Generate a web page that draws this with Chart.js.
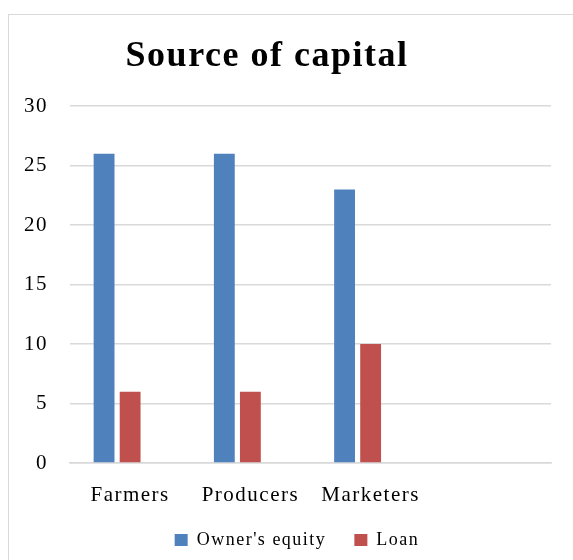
<!DOCTYPE html>
<html>
<head>
<meta charset="utf-8">
<script src="https://cdn.jsdelivr.net/npm/chart.js@4/dist/chart.umd.min.js"></script>
<style>
  html, body { margin: 0; padding: 0; background: #fff; }
  #wrap { position: relative; width: 573px; height: 560px; overflow: hidden; }
  #frame { position: absolute; left: 8px; top: 14px; width: 700px; height: 700px; border: 1px solid #d9d9d9; }
  canvas { position: absolute; left: 0; top: 0; }
</style>
</head>
<body>
<div id="wrap">
  <div id="frame"></div>
  <canvas id="myChart" width="573" height="560"></canvas>
</div>
<script>
// chart data
const categories = ['Farmers', 'Producers', 'Marketers', ''];
const ownersEquity = [26, 26, 23];
const loan = [6, 6, 10];
const yTicks = [0, 5, 10, 15, 20, 25, 30];

const serif = "'Liberation Serif', 'Times New Roman', serif";

// spread the letters a bit, like the original picture,
// and nudge title / legend to where they sit in the original
const spacingPlugin = {
  id: 'spacing',
  beforeLayout(chart) {
    chart.ctx.letterSpacing = '1.5px';
  },
  beforeDraw(chart) {
    chart.ctx.letterSpacing = '1.5px';
  },
  afterLayout(chart) {
    if (chart.titleBlock) {
      chart.titleBlock.left = 0;
      chart.titleBlock.right = 534;
    }
    if (chart.legend) {
      chart.legend.left = 43;
    }
    // let the category labels hang below the (short) x axis box
    chart.scales.x.bottom = chart.height;
  }
};

const ctx = document.getElementById('myChart').getContext('2d');
const chart = new Chart(ctx, {
  type: 'bar',
  data: {
    labels: categories,
    datasets: [
      {
        label: "Owner's equity",
        data: ownersEquity,
        backgroundColor: '#4F81BD',
        categoryPercentage: 0.65,
        barPercentage: 0.8
      },
      {
        label: 'Loan',
        data: loan,
        backgroundColor: '#C0504D',
        categoryPercentage: 0.65,
        barPercentage: 0.8
      },
      {
        // empty third slot, keeps the bars left of the category centre
        label: '',
        data: [],
        backgroundColor: 'rgba(0,0,0,0)',
        categoryPercentage: 0.65,
        barPercentage: 0.8
      }
    ]
  },
  options: {
    responsive: false,
    animation: false,
    layout: {
      padding: { left: 8, right: 22, top: 0, bottom: 1 }
    },
    plugins: {
      title: {
        display: true,
        text: 'Source of capital',
        color: '#000',
        font: { family: serif, size: 36, weight: 'bold' },
        padding: { top: 35, bottom: 28 }
      },
      legend: {
        position: 'bottom',
        labels: {
          color: '#000',
          font: { family: serif, size: 18 },
          boxWidth: 13,
          boxHeight: 12,
          padding: 28,
          filter: (item) => item.datasetIndex < 2
        }
      },
      tooltip: { enabled: false }
    },
    scales: {
      x: {
        afterFit: (scale) => {
          scale.height = 40;
        },
        grid: { display: false, drawTicks: false },
        border: { display: true, color: '#d9d9d9', width: 1.5 },
        ticks: {
          color: '#000',
          font: { family: serif, size: 21 },
          padding: 20
        }
      },
      y: {
        min: 0,
        max: 30,
        afterBuildTicks: (scale) => {
          scale.ticks = yTicks.map(v => ({ value: v }));
        },
        afterFit: (scale) => {
          scale.width = 62;
        },
        grid: { color: '#d9d9d9', lineWidth: 1.5, drawTicks: false },
        border: { display: false },
        ticks: {
          color: '#000',
          font: { family: serif, size: 21 },
          padding: 22
        }
      }
    }
  },
  plugins: [spacingPlugin]
});
</script>
</body>
</html>
